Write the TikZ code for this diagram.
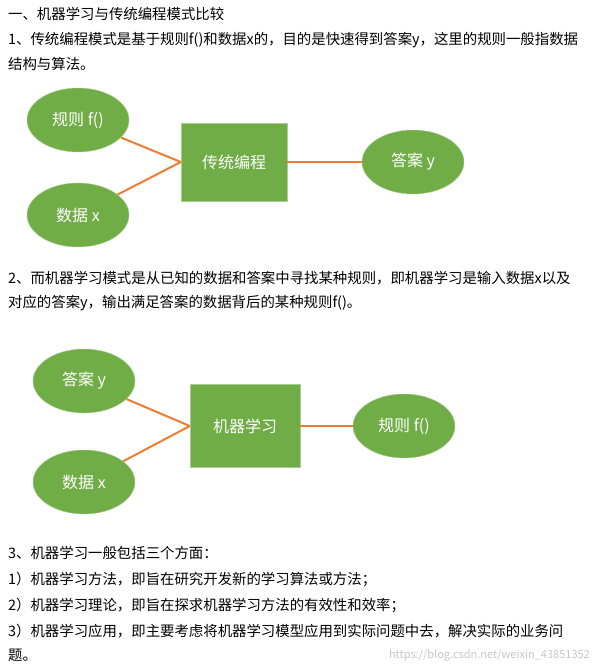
\documentclass[tikz,border=0pt]{standalone}
\usepackage{fontspec}
\setmainfont{Noto Sans CJK SC}
\usetikzlibrary{shapes.geometric}
\definecolor{leaf}{HTML}{70AD47}
\definecolor{wire}{HTML}{ED7D31}
\tikzset{
  oval/.style={ellipse, fill=leaf, draw=leaf!60, text=white, minimum width=102pt, minimum height=64pt, inner sep=0pt, font=\fontsize{16}{18}\selectfont},
  boxn/.style={rectangle, fill=leaf, draw=leaf!60, text=white, minimum width=106pt, minimum height=78pt, font=\fontsize{16}{18}\selectfont},
  txt/.style={anchor=west, inner sep=0pt},
  link/.style={wire, line width=2pt}
}
\begin{document}
\begin{tikzpicture}[x=1pt, y=-1pt, font=\fontsize{14.4}{16}\selectfont]
  \useasboundingbox (0,0) rectangle (600,668);
  \node[txt] (t0) at (8,14) {一、机器学习与传统编程模式比较};
  \node[txt] (t1) at (8,40) {1、传统编程模式是基于规则f()和数据x的，目的是快速得到答案y，这里的规则一般指数据};
  \node[txt] (t2) at (8,64) {结构与算法。};

  \node[oval] (A) at (78,120) {规则 f()};
  \node[oval] (B) at (78,215) {数据 x};
  \node[boxn] (C) at (234,162) {传统编程};
  \node[oval] (D) at (413,162) {答案 y};
  \draw[link] (A) -- (C.west);
  \draw[link] (B) -- (C.west);
  \draw[link] (C) -- (D);

  \node[txt] (t3) at (8,278) {2、而机器学习模式是从已知的数据和答案中寻找某种规则，即机器学习是输入数据x以及};
  \node[txt] (t4) at (8,303) {对应的答案y，输出满足答案的数据背后的某种规则f()。};

  \node[oval] (E) at (84,381) {答案 y};
  \node[oval] (F) at (84,482) {数据 x};
  \node[boxn, minimum width=110pt, minimum height=83pt] (G) at (245,426) {机器学习};
  \node[oval] (H) at (404,426) {规则 f()};
  \draw[link] (E) -- (G.west);
  \draw[link] (F) -- (G.west);
  \draw[link] (G) -- (H);

  \node[txt] (t5) at (8,553) {3、机器学习一般包括三个方面：};
  \node[txt] (t6) at (8,579) {1）机器学习方法，即旨在研究开发新的学习算法或方法；};
  \node[txt] (t7) at (8,605) {2）机器学习理论，即旨在探求机器学习方法的有效性和效率；};
  \node[txt] (t8) at (8,631) {3）机器学习应用，即主要考虑将机器学习模型应用到实际问题中去，解决实际的业务问};
  \node[txt] (t9) at (8,655) {题。};
  \node[anchor=east, inner sep=0pt, text=gray!45, font=\fontsize{11}{13}\selectfont] (wm) at (590,655) {https://blog.csdn.net/weixin\_43851352};
\end{tikzpicture}
\end{document}
